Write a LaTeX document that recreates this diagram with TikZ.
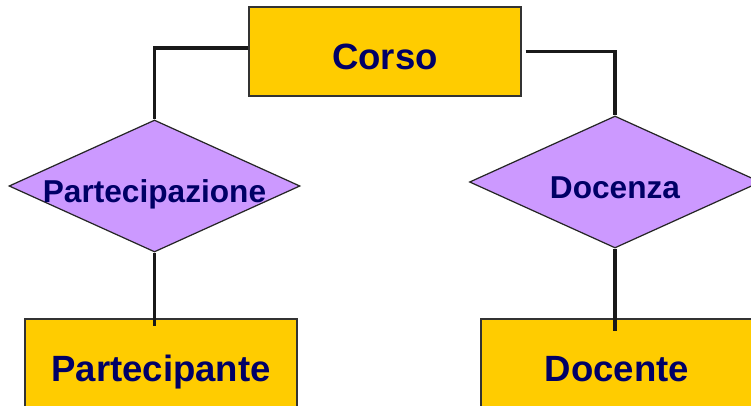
\documentclass[tikz,border=0pt]{standalone}
\usepackage{fontspec}
\setmainfont{Liberation Sans}
\usetikzlibrary{shapes.geometric}
\definecolor{entita}{HTML}{FFCC00}
\definecolor{relazione}{HTML}{CC99FF}
\definecolor{testo}{HTML}{000066}

\begin{document}
\begin{tikzpicture}[
        entity/.style={draw=black!80,fill=entita,line width=0.6pt,minimum width=5.44cm,minimum height=1.78cm,
            text height=0.72cm,text depth=0pt,font=\bfseries\fontsize{20.8}{25}\selectfont,text=testo},
        relation/.style={diamond,draw=black!85,fill=relazione,line width=0.7pt,minimum width=5.82cm,minimum height=2.64cm,
            inner sep=0pt,text height=0.64cm,text depth=0pt,font=\bfseries\fontsize{18}{22}\selectfont,text=testo},
        link/.style={line width=2pt,black!90}]
            \useasboundingbox (0,0) rectangle (15.02,8.1);
            % entita'
            \node[entity] (corso) at (7.70,7.07) {Corso};
            \node[entity,minimum height=1.96cm,text height=0.54cm] (partecipante) at (3.22,0.74) {Partecipante};
            \node[entity,minimum height=1.96cm,text height=0.54cm] (docente) at (12.34,0.74) {Docente};
            % relazioni
            \node[relation] (partecipazione) at (3.09,4.38) {\makebox[0pt]{Partecipazione}};
            \node[relation] (docenza) at (12.30,4.46) {\makebox[0pt]{Docenza}};
            % collegamenti
            \draw[link] ([yshift=0.07cm]corso.west) -| (partecipazione.north);
            \draw[link,shorten <=0.08cm] (corso.east) -| (docenza.north);
            \draw[link] (partecipazione.south) -- ([yshift=-0.16cm]partecipazione.south |- partecipante.north);
            \draw[link] (docenza.south) -- ([yshift=-0.26cm]docenza.south |- docente.north);
        \end{tikzpicture}
\end{document}
